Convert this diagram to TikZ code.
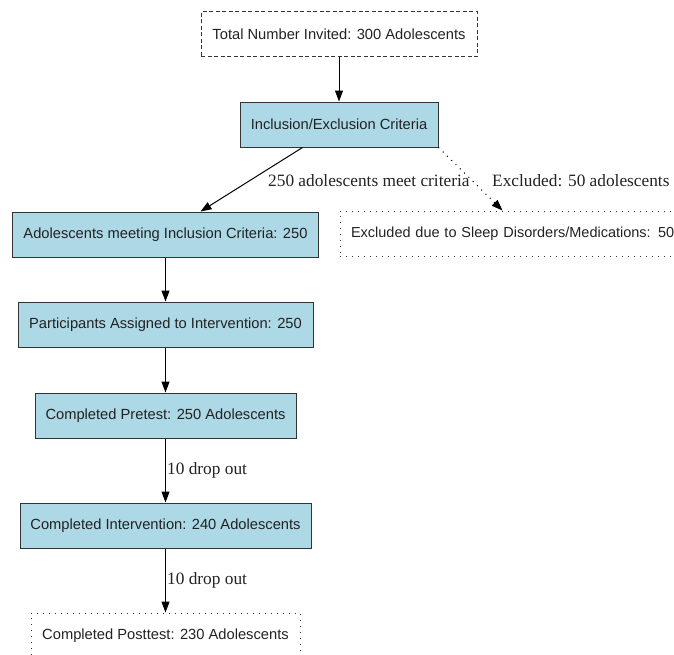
\documentclass[tikz,border=0pt]{standalone}
\usepackage{fontspec}
\setmainfont{Liberation Serif}
\newfontfamily\boxfont{Liberation Sans}
\usetikzlibrary{arrows.meta,calc}
\definecolor{boxfill}{RGB}{173,216,230}
\definecolor{boxline}{RGB}{51,51,51}
\definecolor{txt}{RGB}{34,34,34}
\tikzset{
  flowbox/.style={draw=boxline, line width=1pt, fill=boxfill, minimum height=45pt, inner sep=0pt,
    font=\boxfont\fontsize{14.7}{17}\selectfont, text=txt},
  dashbox/.style={flowbox, fill=none, dashed, dash pattern=on 4pt off 2.5pt},
  dotbox/.style={flowbox, fill=none, draw=boxline, dash pattern=on 1pt off 5pt, line width=1pt},
  arr/.style={-{Triangle[length=11pt,width=8pt]}, line width=1pt, draw=black},
  dotarr/.style={arr, dash pattern=on 1pt off 5pt},
  elabel/.style={font=\fontsize{17.3}{20}\selectfont, text=txt, inner sep=0pt, anchor=west}
}
\begin{document}
\begin{tikzpicture}[x=1pt,y=-1pt]
\useasboundingbox (0,0) rectangle (674,654);
\begin{scope}
\clip (0,0) rectangle (674,654);
\node[dashbox, minimum width=276pt] (top) at (339,34) {Total Number Invited: 300 Adolescents};
\node[flowbox, minimum width=198pt] (incl) at (339,124.5) {Inclusion/Exclusion Criteria};
\node[flowbox, minimum width=306pt] (adol) at (165.5,234.5) {Adolescents meeting Inclusion Criteria: 250};
\node[dotbox, minimum width=344pt, text width=322pt, align=left, font=\boxfont\fontsize{14.5}{17}\selectfont] (excl) at (512,233.5) {\mbox{Excluded due to Sleep Disorders/Medications: 50}};
\node[flowbox, minimum width=295pt] (part) at (165.5,324.5) {Participants Assigned to Intervention: 250};
\node[flowbox, minimum width=261pt] (pre) at (165.5,415.5) {Completed Pretest: 250 Adolescents};
\node[flowbox, minimum width=291pt] (interv) at (165.5,525.5) {Completed Intervention: 240 Adolescents};
\node[dotbox, minimum width=269pt] (post) at (165.5,635.5) {Completed Posttest: 230 Adolescents};

\draw[arr] (top.south) -- (incl.north);
\draw[arr] ($(incl.south west)+(63,0)$) -- ($(adol.north)+(35,0)$);
\draw[dotarr] (incl.south east) -- ($(excl.north west)+(163,0)$);
\draw[arr] (adol.south) -- (part.north);
\draw[arr] (part.south) -- (pre.north);
\draw[arr] (pre.south) -- (interv.north);
\draw[arr] (interv.south) -- (post.north);

\node[elabel] (l1) at (268,181) {250 adolescents meet criteria};
\node[elabel] (l2) at (492,181) {Excluded: 50 adolescents};
\node[elabel] (l3) at (167,470) {10 drop out};
\node[elabel] (l4) at (167,580) {10 drop out};
\end{scope}
\end{tikzpicture}
\end{document}
